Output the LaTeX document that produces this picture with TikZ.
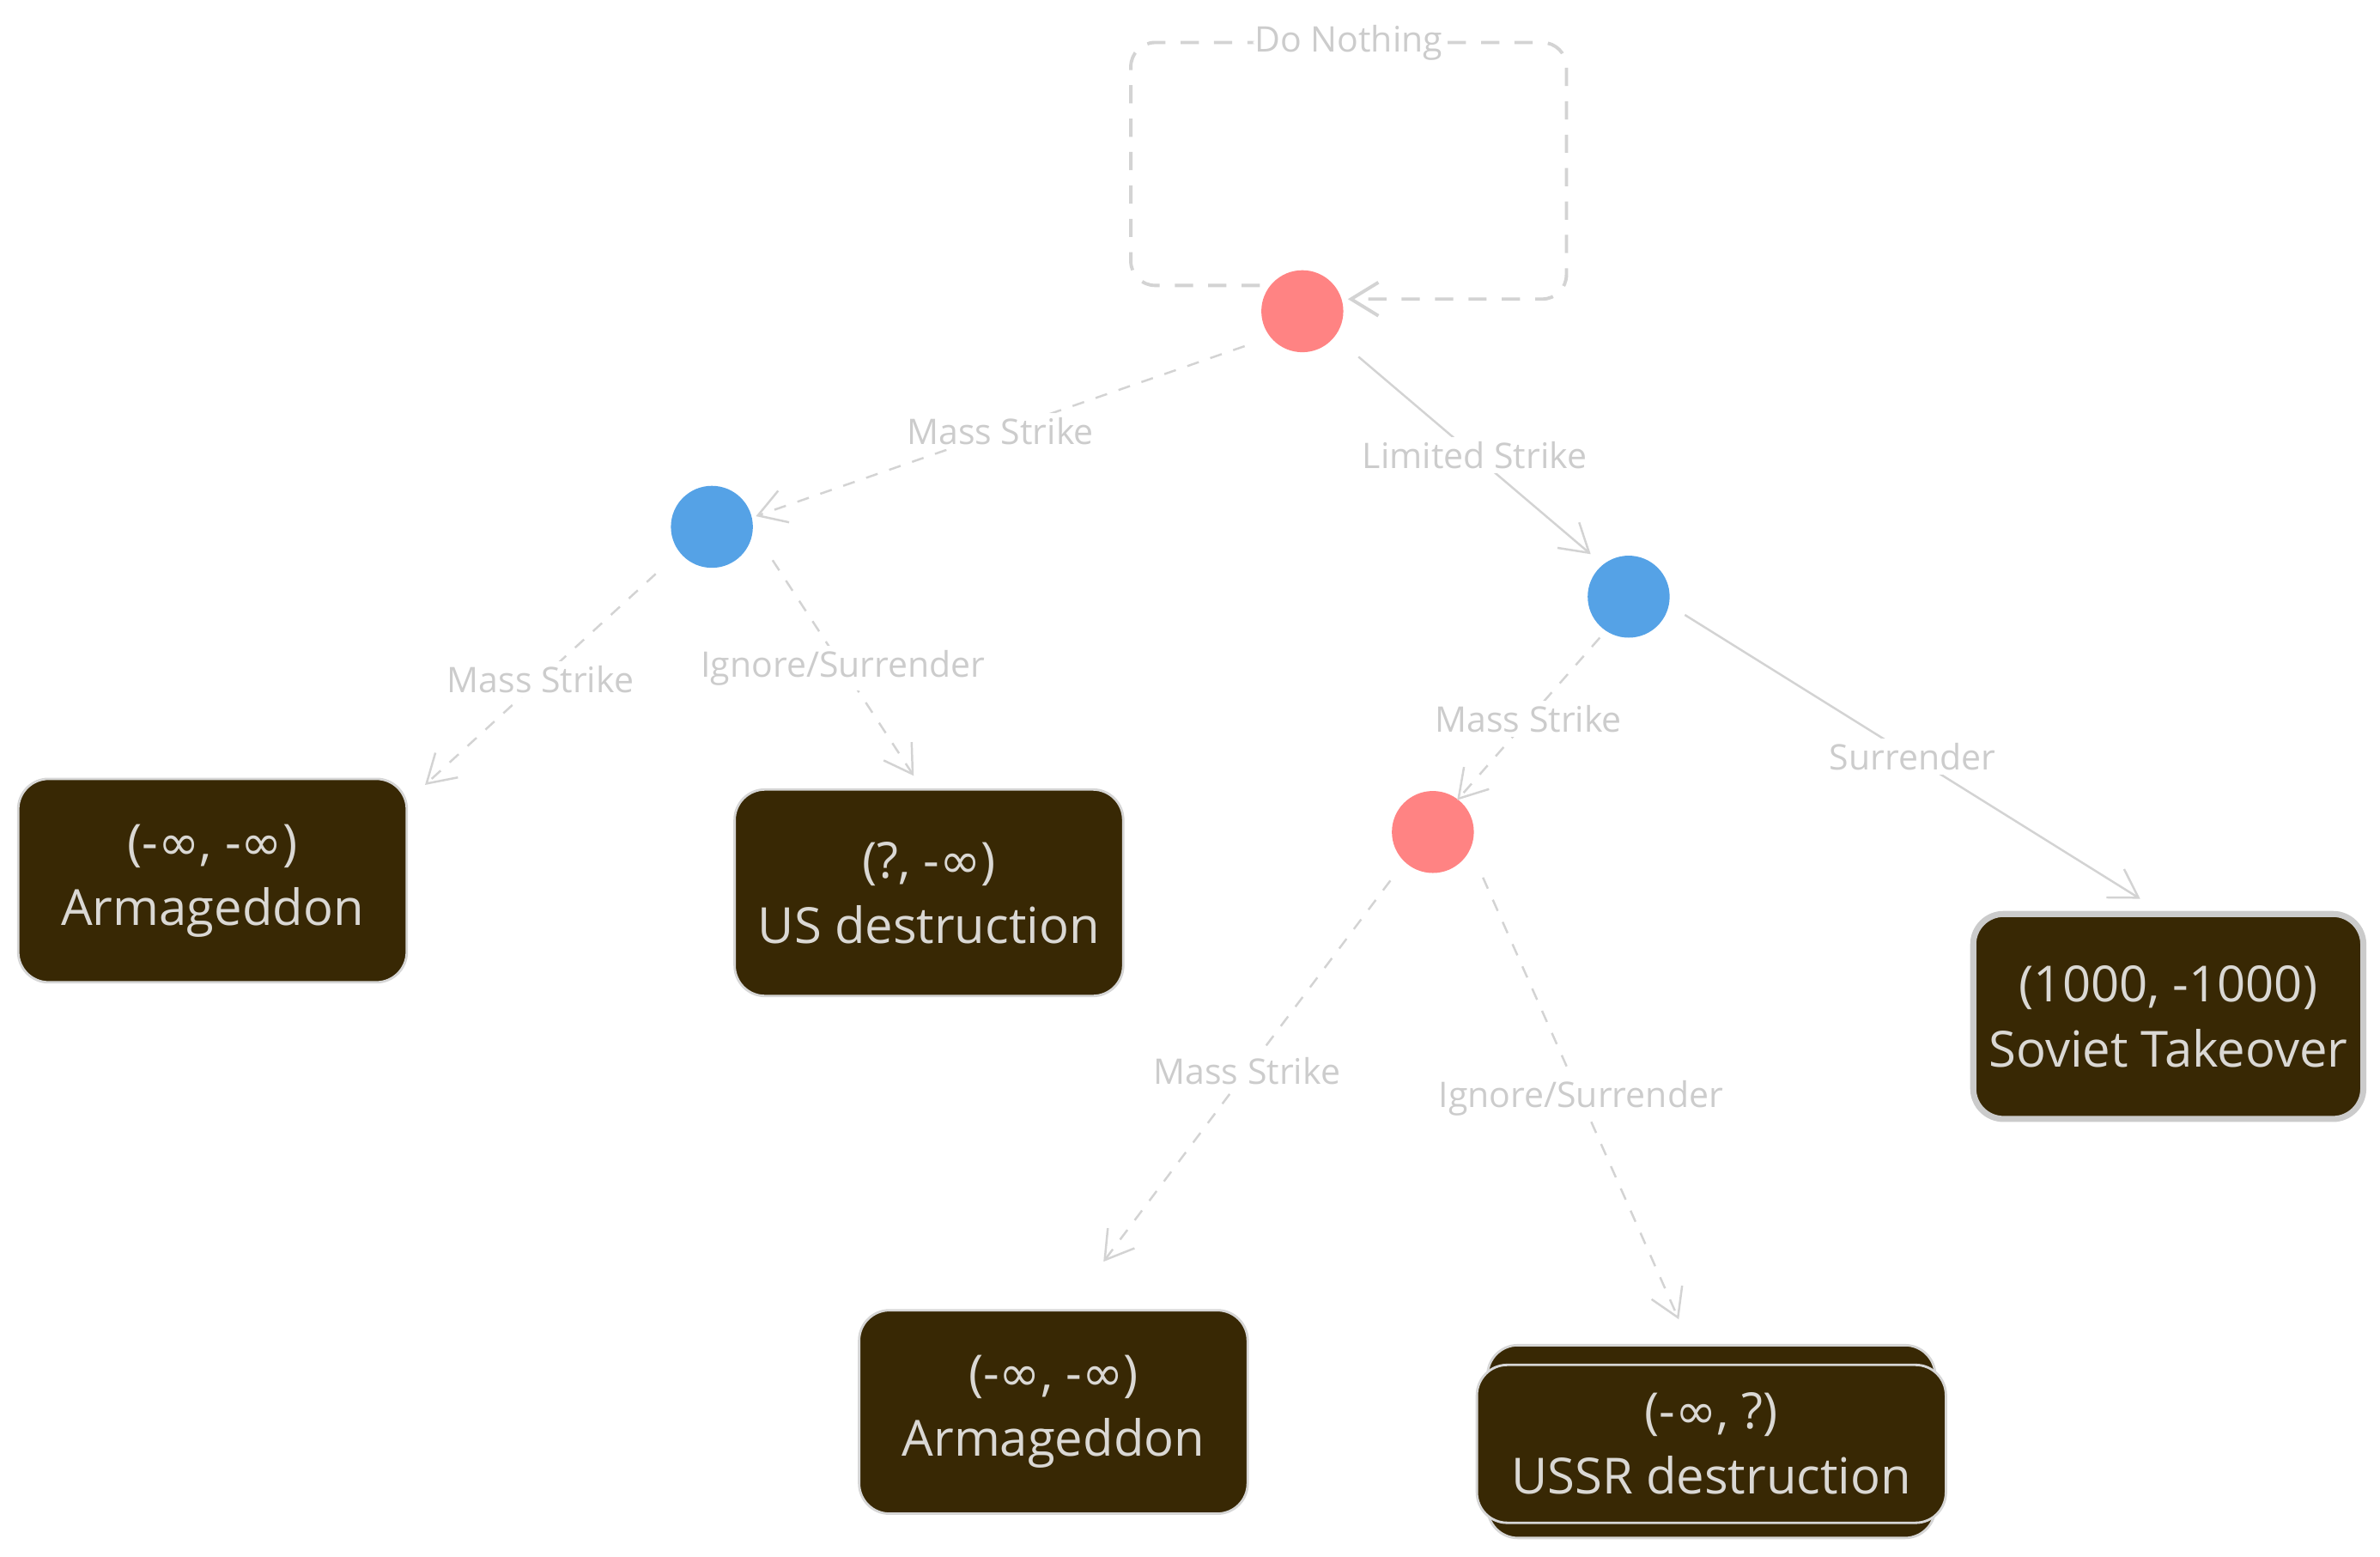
\documentclass[tikz,border=0pt]{standalone}
\usepackage{fontspec}
\setmainfont{Open Sans}
\newfontfamily\symfont{DejaVu Sans}
\newcommand\infs{{\symfont ∞}}
\usetikzlibrary{arrows.meta,calc}
\definecolor{edgec}{HTML}{D3D3D3}
\definecolor{labc}{HTML}{CCCCCC}
\definecolor{boxfill}{HTML}{382804}
\definecolor{boxtext}{HTML}{DAD8D4}
\definecolor{boxborder}{HTML}{D6D6D6}
\definecolor{redc}{HTML}{FF8383}
\definecolor{bluec}{HTML}{55A2E6}
\begin{document}
\begin{tikzpicture}[x=0.5pt,y=0.5pt,
  dot/.style={circle,minimum size=27pt,inner sep=0pt},
  reddot/.style={dot,fill=redc},
  bluedot/.style={dot,fill=bluec},
  outcome/.style={rounded corners=10pt,fill=boxfill,draw=boxborder,line width=0.8pt,text=boxtext,font=\fontsize{16.4}{21.5}\selectfont,align=center,inner sep=0pt},
  edge/.style={draw=edgec,line width=0.7pt,-{Straight Barb[length=9pt,width=11pt]}},
  dashededge/.style={edge,dash pattern=on 4pt off 4pt},
  loopedge/.style={edge,line width=1.1pt,dash pattern=on 6pt off 5pt,rounded corners=8pt},
  lab/.style={fill=white,text=labc,font=\fontsize{11.6}{14}\selectfont,inner sep=1.5pt}]
\useasboundingbox (0,0) rectangle (1568,1025);
% decision nodes
\node[reddot]  (r1) at (858,820) {};
\node[bluedot] (b1) at (469,678) {};
\node[bluedot] (b2) at (1073,632) {};
\node[reddot]  (r2) at (944,477) {};
% outcomes
\node[outcome,minimum width=128pt,minimum height=67pt] (A) at (140,445) {\raisebox{-1.5pt}{(-\infs, -\infs)}\\\raisebox{-1.5pt}{Armageddon}};
\node[outcome,minimum width=128pt,minimum height=68pt] (B) at (612,437) {(?, -\infs)\\US destruction};
\node[outcome,minimum width=128.5pt,minimum height=67.5pt,line width=2pt,draw=boxborder!95!black] (C) at (1428.5,355.5) {(1000, -1000)\\Soviet Takeover};
\node[outcome,minimum width=128pt,minimum height=67pt] (D) at (694,95) {\raisebox{-1.5pt}{(-\infs, -\infs)}\\\raisebox{-1.5pt}{Armageddon}};
\node[outcome,minimum width=147.5pt,minimum height=63.5pt] (E0) at (1127.5,75.5) {};
\node[outcome,minimum width=154.5pt,minimum height=52pt] (E) at (1127.5,74) {(-\infs, ?)\\USSR destruction};
% connectors
\draw[loopedge] ($(r1)+(-28,17)$) -- ($(r1)+(-113,17)$) -- ($(r1)+(-113,177)$) -- node[lab,inner sep=0.5pt]{Do Nothing} ($(r1)+(174,177)$) -- ($(r1)+(174,8)$) -- ($(r1)+(30,8)$);
\draw[dashededge] ($(r1)+(-38,-23)$) -- node[lab]{Mass Strike} ($(b1)+(29,7)$);
\draw[edge] ($(r1)+(37,-30)$) -- node[lab]{Limited Strike} ($(b2)+(-25,28)$);
\draw[dashededge] ($(b1)+(-37,-31)$) -- node[lab]{Mass Strike} ($(A)+(140,63)$);
\draw[dashededge] ($(b1)+(40,-22)$) -- node[lab]{Ignore/Surrender} ($(B)+(-10,77)$);
\draw[dashededge] ($(b2)+(-19,-27)$) -- node[lab]{Mass Strike} ($(r2)+(16,21)$);
\draw[edge] ($(b2)+(37,-12)$) -- node[lab]{Surrender} ($(C)+(-18.5,77.5)$);
\draw[dashededge] ($(r2)+(-28,-32)$) -- node[lab]{Mass Strike} ($(D)+(33,99)$);
\draw[dashededge] ($(r2)+(33,-30)$) -- node[lab]{Ignore/Surrender} ($(E)+(-21.5,82)$);
\end{tikzpicture}
\end{document}
